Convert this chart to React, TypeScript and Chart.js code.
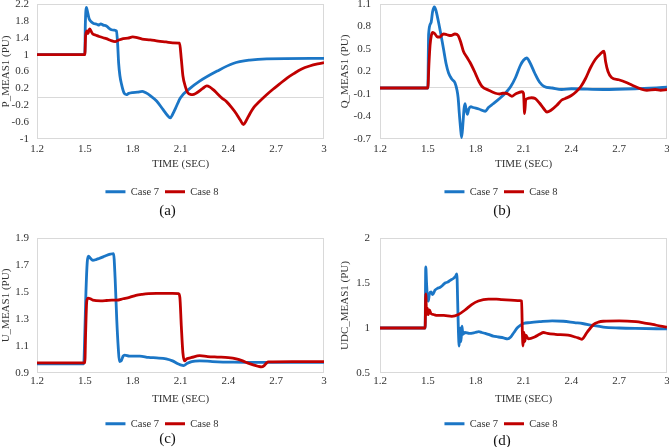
import React, { useEffect, useRef } from "react";
import { Chart, registerables } from "chart.js";

Chart.register(...registerables);

type Pt = [number, number];

const FONT = '"Liberation Serif", "Times New Roman", serif';
const SERIES_NAMES = ["Case 7", "Case 8"];
const SERIES_COLORS = ["#1B76C6", "#C00000"];
const TIME_TICKS = [1.2, 1.5, 1.8, 2.1, 2.4, 2.7, 3];
const X_TITLE = "TIME (SEC)";

// (a) P_MEAS1
const P_TICKS = [-1, -0.6, -0.2, 0.2, 0.6, 1, 1.4, 1.8, 2.2];
const P_CASE7: Pt[] = [
  [1.2, 1.0], [1.5, 1.0], [1.503, 1.7], [1.51, 2.12], [1.515, 2.05], [1.527, 1.85], [1.54, 1.78],
  [1.555, 1.74], [1.575, 1.72], [1.59, 1.7], [1.6, 1.73], [1.615, 1.7], [1.635, 1.68], [1.65, 1.63],
  [1.667, 1.59], [1.685, 1.58], [1.698, 1.56], [1.705, 1.3], [1.712, 0.8], [1.72, 0.5], [1.73, 0.3],
  [1.745, 0.1], [1.76, 0.05], [1.775, 0.08], [1.8, 0.1], [1.83, 0.11], [1.86, 0.13], [1.88, 0.1],
  [1.91, 0.03], [1.95, -0.1], [1.99, -0.3], [2.02, -0.45], [2.035, -0.5], [2.05, -0.42], [2.07, -0.26],
  [2.1, -0.02], [2.15, 0.17], [2.22, 0.37], [2.33, 0.61], [2.43, 0.79], [2.535, 0.87], [2.64, 0.9], [3.0, 0.91],
];
const P_CASE8: Pt[] = [
  [1.2, 1.0], [1.5, 1.0], [1.505, 1.45], [1.515, 1.56], [1.52, 1.5], [1.53, 1.61], [1.54, 1.55],
  [1.55, 1.49], [1.57, 1.46], [1.59, 1.43], [1.615, 1.4], [1.635, 1.38], [1.66, 1.34], [1.69, 1.31],
  [1.71, 1.34], [1.74, 1.38], [1.77, 1.39], [1.8, 1.42], [1.82, 1.41], [1.86, 1.37], [1.91, 1.35],
  [1.96, 1.32], [2.01, 1.3], [2.05, 1.28], [2.094, 1.27], [2.105, 0.9], [2.115, 0.5], [2.13, 0.25],
  [2.145, 0.1], [2.16, 0.06], [2.175, 0.05], [2.2, 0.09], [2.24, 0.2], [2.265, 0.26], [2.285, 0.23],
  [2.305, 0.17], [2.33, 0.08], [2.36, -0.03], [2.39, -0.12], [2.42, -0.25], [2.45, -0.4], [2.475, -0.55],
  [2.495, -0.66], [2.51, -0.58], [2.535, -0.4], [2.56, -0.25], [2.59, -0.13], [2.64, 0.05], [2.68, 0.18],
  [2.72, 0.3], [2.77, 0.45], [2.81, 0.55], [2.86, 0.66], [2.91, 0.73], [2.96, 0.78], [3.0, 0.81],
];

// (b) Q_MEAS1
const Q_TICKS = [-0.7, -0.4, -0.1, 0.2, 0.5, 0.8, 1.1];
const Q_CASE7: Pt[] = [
  [1.2, -0.02], [1.5, -0.02], [1.505, 0.7], [1.52, 0.85], [1.53, 1.0], [1.541, 1.06], [1.55, 1.02],
  [1.565, 0.88], [1.577, 0.75], [1.59, 0.6], [1.6, 0.48], [1.615, 0.3], [1.63, 0.18], [1.65, 0.1],
  [1.67, 0.05], [1.683, -0.05], [1.69, -0.15], [1.697, -0.35], [1.705, -0.55], [1.712, -0.68],
  [1.72, -0.5], [1.727, -0.3], [1.733, -0.23], [1.742, -0.33], [1.748, -0.37], [1.757, -0.3],
  [1.77, -0.27], [1.785, -0.28], [1.82, -0.3], [1.86, -0.33], [1.88, -0.28], [1.91, -0.23],
  [1.95, -0.16], [1.99, -0.08], [2.02, 0.0], [2.05, 0.12], [2.08, 0.28], [2.1, 0.35], [2.12, 0.38],
  [2.14, 0.32], [2.17, 0.18], [2.2, 0.06], [2.23, 0.0], [2.28, -0.02], [2.34, -0.04], [2.4, -0.03],
  [2.6, -0.04], [2.8, -0.03], [3.0, -0.01],
];
const Q_CASE8: Pt[] = [
  [1.2, -0.02], [1.5, -0.02], [1.507, 0.3], [1.514, 0.55], [1.522, 0.68], [1.531, 0.72], [1.545, 0.7],
  [1.56, 0.66], [1.575, 0.66], [1.59, 0.69], [1.6, 0.7], [1.62, 0.69], [1.645, 0.68], [1.67, 0.7],
  [1.69, 0.68], [1.705, 0.6], [1.723, 0.47], [1.745, 0.39], [1.765, 0.32], [1.797, 0.18], [1.82, 0.07],
  [1.84, 0.0], [1.882, -0.05], [1.924, -0.09], [1.95, -0.1], [1.97, -0.09], [1.99, -0.09], [2.01, -0.11],
  [2.027, -0.13], [2.05, -0.1], [2.09, -0.07], [2.1, -0.09], [2.107, -0.36], [2.114, -0.18],
  [2.125, -0.16], [2.15, -0.15], [2.173, -0.16], [2.2, -0.22], [2.225, -0.29], [2.247, -0.34],
  [2.27, -0.32], [2.309, -0.25], [2.34, -0.18], [2.362, -0.16], [2.4, -0.12], [2.43, -0.07],
  [2.46, 0.0], [2.49, 0.11], [2.52, 0.25], [2.55, 0.36], [2.58, 0.43], [2.605, 0.47], [2.615, 0.33],
  [2.63, 0.2], [2.652, 0.12], [2.697, 0.09], [2.749, 0.05], [2.8, 0.0], [2.874, -0.05], [2.926, -0.04],
  [2.96, -0.05], [3.0, -0.04],
];

// (c) U_MEAS1
const U_TICKS = [0.9, 1.1, 1.3, 1.5, 1.7, 1.9];
const U_CASE7: Pt[] = [
  [1.2, 0.968], [1.493, 0.968], [1.5, 1.2], [1.507, 1.5], [1.515, 1.72], [1.523, 1.765], [1.535, 1.75],
  [1.55, 1.735], [1.57, 1.74], [1.593, 1.75], [1.615, 1.76], [1.635, 1.77], [1.66, 1.78], [1.68, 1.785],
  [1.69, 1.6], [1.7, 1.3], [1.71, 1.08], [1.717, 0.985], [1.728, 0.99], [1.74, 1.025], [1.75, 1.033],
  [1.78, 1.025], [1.845, 1.025], [1.9, 1.015], [1.95, 1.012], [2.01, 1.005], [2.05, 0.99], [2.08, 0.97],
  [2.1, 0.96], [2.12, 0.955], [2.14, 0.97], [2.17, 0.985], [2.22, 0.99], [2.3, 0.985], [2.43, 0.98],
  [2.6, 0.978], [3.0, 0.978],
];
const U_CASE8: Pt[] = [
  [1.2, 0.975], [1.5, 0.975], [1.505, 1.2], [1.512, 1.43], [1.52, 1.455], [1.535, 1.45], [1.55, 1.44],
  [1.6, 1.435], [1.635, 1.437], [1.67, 1.44], [1.7, 1.44], [1.74, 1.45], [1.78, 1.46], [1.82, 1.475],
  [1.86, 1.483], [1.9, 1.488], [1.95, 1.49], [2.0, 1.49], [2.05, 1.49], [2.088, 1.488], [2.096, 1.46],
  [2.105, 1.25], [2.115, 1.05], [2.125, 0.99], [2.14, 1.005], [2.17, 1.015], [2.22, 1.028], [2.27, 1.022],
  [2.33, 1.018], [2.4, 1.014], [2.45, 1.005], [2.49, 0.99], [2.52, 0.975], [2.556, 0.96], [2.585, 0.95],
  [2.608, 0.945], [2.625, 0.955], [2.64, 0.975], [2.65, 0.983], [2.8, 0.985], [3.0, 0.985],
];

// (d) UDC_MEAS1
const UDC_TICKS = [0.5, 1, 1.5, 2];
const UDC_CASE7: Pt[] = [
  [1.2, 1.0], [1.483, 1.0], [1.487, 1.68], [1.492, 1.5], [1.497, 1.35], [1.503, 1.3], [1.51, 1.38],
  [1.52, 1.4], [1.53, 1.37], [1.545, 1.42], [1.56, 1.44], [1.575, 1.45], [1.59, 1.47], [1.608, 1.5],
  [1.625, 1.51], [1.64, 1.53], [1.66, 1.55], [1.672, 1.57], [1.682, 1.6], [1.687, 1.3], [1.692, 0.95],
  [1.697, 0.8], [1.703, 1.0], [1.708, 0.85], [1.714, 1.02], [1.72, 0.93], [1.733, 0.95], [1.76, 0.94],
  [1.796, 0.95], [1.82, 0.96], [1.838, 0.95], [1.86, 0.94], [1.88, 0.93], [1.91, 0.91], [1.943, 0.9],
  [1.975, 0.89], [2.0, 0.88], [2.02, 0.9], [2.04, 0.95], [2.06, 1.0], [2.08, 1.03], [2.1, 1.05],
  [2.14, 1.06], [2.2, 1.07], [2.28, 1.08], [2.35, 1.075], [2.42, 1.06], [2.47, 1.05], [2.53, 1.03],
  [2.6, 1.01], [2.7, 1.0], [2.8, 0.995], [3.0, 0.99],
];
const UDC_CASE8: Pt[] = [
  [1.2, 1.0], [1.483, 1.0], [1.487, 1.38], [1.492, 1.15], [1.497, 1.22], [1.503, 1.15], [1.51, 1.2],
  [1.52, 1.16], [1.535, 1.15], [1.56, 1.14], [1.6, 1.14], [1.65, 1.13], [1.692, 1.15], [1.733, 1.2],
  [1.775, 1.26], [1.817, 1.3], [1.88, 1.32], [1.93, 1.32], [1.964, 1.315], [2.02, 1.31], [2.079, 1.305],
  [2.088, 1.3], [2.093, 0.95], [2.097, 0.8], [2.103, 0.95], [2.108, 0.85], [2.115, 0.92], [2.13, 0.88],
  [2.17, 0.9], [2.2, 0.93], [2.226, 0.95], [2.25, 0.94], [2.3, 0.93], [2.38, 0.92], [2.424, 0.9],
  [2.45, 0.885], [2.467, 0.875], [2.48, 0.9], [2.498, 0.95], [2.52, 1.0], [2.54, 1.04], [2.57, 1.065],
  [2.6, 1.075], [2.7, 1.08], [2.805, 1.07], [2.86, 1.055], [2.91, 1.04], [2.96, 1.02], [3.0, 1.01],
];

type Spec = {
  label: string;
  yTitle: string;
  yTicks: number[];
  s7: Pt[];
  s8: Pt[];
  left: number;
  top: number;
  w: number;
  h: number;
  areaLeft: number;
  areaRight: number;
  padTop: number;
  padBottom: number;
  yTickPad: number;
  yTitlePad: number;
  xTickPad: number;
  xHeight: number;
  xTitleBottom: number;
  labelY: number;
};

const PANELS: Spec[] = [
  {
    label: "(a)", yTitle: "P_MEAS1 (PU)", yTicks: P_TICKS, s7: P_CASE7, s8: P_CASE8,
    left: 0, top: 0, w: 335, h: 225, areaLeft: 37, areaRight: 324, padTop: 4, padBottom: 18,
    yTickPad: 8, yTitlePad: 0, xTickPad: 4, xHeight: 41.5, xTitleBottom: 10, labelY: 210,
  },
  {
    label: "(b)", yTitle: "Q_MEAS1 (PU)", yTicks: Q_TICKS, s7: Q_CASE7, s8: Q_CASE8,
    left: 335, top: 0, w: 334, h: 225, areaLeft: 45, areaRight: 332, padTop: 4, padBottom: 18,
    yTickPad: 9, yTitlePad: 3.5, xTickPad: 4, xHeight: 41.5, xTitleBottom: 10, labelY: 210,
  },
  {
    label: "(c)", yTitle: "U_MEAS1 (PU)", yTicks: U_TICKS, s7: U_CASE7, s8: U_CASE8,
    left: 0, top: 225, w: 335, h: 222, areaLeft: 37, areaRight: 324, padTop: 13, padBottom: 8,
    yTickPad: 8, yTitlePad: 0, xTickPad: 2, xHeight: 39.5, xTitleBottom: 7, labelY: 213,
  },
  {
    label: "(d)", yTitle: "UDC_MEAS1 (PU)", yTicks: UDC_TICKS, s7: UDC_CASE7, s8: UDC_CASE8,
    left: 335, top: 225, w: 334, h: 222, areaLeft: 45, areaRight: 332, padTop: 13, padBottom: 8,
    yTickPad: 10, yTitlePad: 3.5, xTickPad: 2, xHeight: 39.5, xTitleBottom: 7, labelY: 215,
  },
];

const fmt = (v: number | string) => String(+Number(v).toFixed(3));

const framePlugin = {
  id: "frame",
  beforeDatasetsDraw(chart: any) {
    const { ctx, chartArea: a, scales } = chart;
    ctx.save();
    ctx.strokeStyle = "#d9d9d9";
    ctx.lineWidth = 1;
    ctx.strokeRect(Math.round(a.left) + 0.5, Math.round(a.top) + 0.5, Math.round(a.width) - 1, Math.round(a.height) - 1);
    const ys = scales.y;
    if (ys.min < 0 && ys.max > 0) {
      const py = Math.round(ys.getPixelForValue(0)) + 0.5;
      ctx.beginPath();
      ctx.moveTo(a.left, py);
      ctx.lineTo(a.right, py);
      ctx.stroke();
    }
    ctx.restore();
  },
};

function PanelChart({ spec }: { spec: Spec }) {
  const ref = useRef<HTMLCanvasElement>(null);
  useEffect(() => {
    const toXY = (s: Pt[]) => s.map(([x, y]) => ({ x, y }));
    const yMin = spec.yTicks[0];
    const yMax = spec.yTicks[spec.yTicks.length - 1];
    const chart = new Chart(ref.current!, {
      type: "line",
      data: {
        datasets: [spec.s7, spec.s8].map((s, i) => ({
          label: SERIES_NAMES[i],
          data: toXY(s),
          borderColor: SERIES_COLORS[i],
          backgroundColor: SERIES_COLORS[i],
          borderWidth: 2.8,
          pointRadius: 0,
          cubicInterpolationMode: "monotone" as const,
          order: 2 - i,
        })),
      },
      options: {
        animation: false,
        responsive: false,
        events: [],
        layout: { padding: { left: 0, right: spec.w - spec.areaRight, top: spec.padTop, bottom: spec.padBottom } },
        scales: {
          x: {
            type: "linear",
            min: TIME_TICKS[0],
            max: TIME_TICKS[TIME_TICKS.length - 1],
            afterBuildTicks: (s: any) => { s.ticks = TIME_TICKS.map((v) => ({ value: v })); },
            afterFit: (s: any) => { s.paddingLeft = 0; s.paddingRight = 0; s.height = spec.xHeight; },
            grid: { display: false, drawTicks: false },
            border: { display: false },
            ticks: { padding: spec.xTickPad, maxRotation: 0, autoSkip: false, color: "#333", font: { family: FONT, size: 11 }, callback: (v: any) => fmt(v) },
            title: { display: true, text: X_TITLE, color: "#333", font: { family: FONT, size: 11 }, padding: { top: 0, bottom: spec.xTitleBottom } },
          },
          y: {
            type: "linear",
            min: yMin,
            max: yMax,
            afterBuildTicks: (s: any) => { s.ticks = spec.yTicks.map((v) => ({ value: v })); },
            afterFit: (s: any) => { s.width = spec.areaLeft; s.paddingTop = 0; s.paddingBottom = 0; },
            grid: { display: false, drawTicks: false },
            border: { display: false },
            ticks: { padding: spec.yTickPad, autoSkip: false, color: "#333", font: { family: FONT, size: 11 }, callback: (v: any) => fmt(v) },
            title: { display: true, text: spec.yTitle, color: "#333", font: { family: FONT, size: 11 }, padding: { top: spec.yTitlePad, bottom: 0 } },
          },
        },
        plugins: {
          legend: {
            position: "bottom",
            labels: {
              boxWidth: 20,
              boxHeight: 3,
              padding: 6,
              color: "#333",
              font: { family: FONT, size: 10.5 },
              sort: (a: any, b: any) => a.datasetIndex - b.datasetIndex,
              generateLabels: (c: any) =>
                Chart.defaults.plugins.legend.labels.generateLabels(c).map((l: any) => ({ ...l, lineWidth: 0 })),
            },
          },
          tooltip: { enabled: false },
        },
      },
      plugins: [framePlugin],
    } as any);
    return () => chart.destroy();
  }, [spec]);
  return (
    <div style={{ position: "absolute", left: spec.left, top: spec.top, width: spec.w, height: spec.h }}>
      <canvas ref={ref} width={spec.w} height={spec.h} style={{ display: "block" }} />
      <div
        style={{
          position: "absolute",
          left: 0,
          width: "100%",
          top: spec.labelY - 9,
          height: 18,
          lineHeight: "18px",
          textAlign: "center",
          fontFamily: FONT,
          fontSize: 15,
          color: "#111",
        }}
      >
        {spec.label}
      </div>
    </div>
  );
}

export default function App() {
  return (
    <div style={{ position: "absolute", left: 0, top: 0, width: 669, height: 447, overflow: "hidden", background: "#fff" }}>
      {PANELS.map((p) => (
        <PanelChart key={p.label} spec={p} />
      ))}
    </div>
  );
}
